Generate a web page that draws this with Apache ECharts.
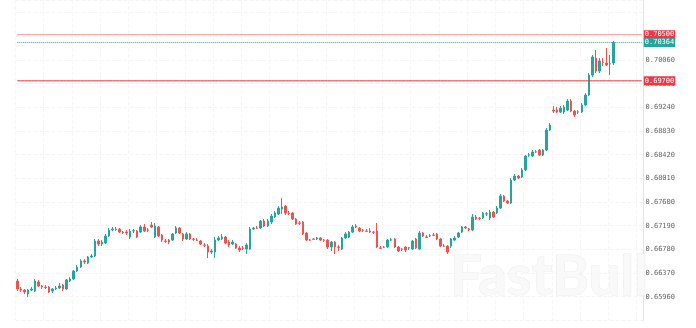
<!DOCTYPE html>
<html><head><meta charset="utf-8">
<script src="https://cdn.jsdelivr.net/npm/echarts@6/dist/echarts.min.js"></script>
<style>html,body{margin:0;padding:0;background:#fff}#c{width:696px;height:328px}</style>
</head><body><div id="c"></div>
<script>
const opens = [.66232,.66094,.66076,.66007,.66076,.66059,.66215,.66146,.66128,.66128,
.66059,.66094,.66111,.66163,.66094,.66232,.66267,.66405,.66475,.66579,
.66544,.66648,.66665,.66925,.66873,.66890,.67012,.67116,.67133,.67133,
.67081,.67081,.66994,.67098,.67098,.67081,.67168,.67116,.67202,.66994,
.67168,.67029,.66925,.66942,.66942,.67064,.67150,.67047,.66960,.67047,
.66960,.66942,.66925,.66856,.66838,.66734,.66734,.66942,.66960,.66994,
.66908,.66873,.66873,.66804,.66804,.66786,.66786,.67133,.67150,.67150,
.67271,.67185,.67254,.67341,.67393,.67479,.67531,.67410,.67410,.67306,
.67237,.67254,.67064,.66942,.66960,.66960,.66977,.66942,.66942,.66821,
.66908,.66821,.66786,.66977,.66994,.67081,.67185,.67150,.67116,.67098,
.67098,.67081,.67098,.66804,.66821,.66821,.66942,.66960,.66821,.66786,
.66821,.66804,.66786,.66960,.66786,.67064,.66994,.67012,.67029,.67047,
.66960,.66838,.66838,.66838,.66942,.66994,.67081,.67168,.67133,.67116,
.67341,.67323,.67323,.67393,.67323,.67427,.67410,.67496,.67704,.67618,
.67583,.67981,.68051,.68033,.68155,.68414,.68397,.68466,.68501,.68414,
.68501,.68847,.69194,.69194,.69159,.69159,.69194,.69350,.69177,.69159,
.69159,.69280,.69454,.69800,.70094,.69869,.70025,.70008,.69991,.70008];
const closes = [.66094,.66076,.66042,.66076,.66094,.66232,.66146,.66128,.66120,.66042,
.66094,.66111,.66146,.66094,.66250,.66267,.66405,.66475,.66579,.66561,
.66648,.66665,.66925,.66873,.66908,.67012,.67116,.67133,.67125,.67081,
.67073,.67064,.67098,.67105,.66994,.67168,.67098,.67110,.67168,.67185,
.67012,.66942,.66920,.66908,.67047,.67150,.67064,.66960,.67047,.66960,
.66955,.66938,.66873,.66850,.66734,.66752,.66942,.66977,.66994,.66890,
.66856,.66908,.66804,.66769,.66800,.66856,.67133,.67150,.67146,.67271,
.67185,.67271,.67358,.67410,.67496,.67514,.67410,.67405,.67306,.67219,
.67232,.67047,.66942,.66938,.66955,.66977,.66942,.66938,.66821,.66908,
.66821,.66816,.66977,.67047,.67081,.67168,.67168,.67098,.67112,.67094,
.67081,.67077,.66821,.66800,.66817,.66942,.66946,.66821,.66752,.66782,
.66769,.66808,.66925,.66804,.67064,.67012,.66990,.67016,.67025,.66960,
.66838,.66834,.66734,.66960,.66977,.67064,.67168,.67150,.67116,.67341,
.67306,.67319,.67410,.67397,.67427,.67341,.67496,.67704,.67618,.67583,
.67981,.68051,.68016,.68155,.68397,.68418,.68466,.68470,.68414,.68501,
.68847,.68934,.69177,.69159,.69228,.69246,.69350,.69177,.69107,.69163,
.69280,.69454,.69800,.70112,.69869,.70043,.70020,.69973,.69995,.70364];
const lows = [.66059,.66042,.66007,.65955,.66059,.66042,.66128,.66094,.66094,.66024,
.66024,.66076,.66094,.66059,.66076,.66215,.66250,.66388,.66457,.66527,
.66527,.66630,.66648,.66838,.66838,.66873,.66994,.67098,.67098,.67064,
.67047,.67029,.66960,.67064,.66977,.67064,.67081,.67081,.67150,.66977,
.66994,.66908,.66890,.66873,.66925,.67047,.67047,.66925,.66942,.66942,
.66925,.66925,.66856,.66821,.66630,.66700,.66630,.66925,.66942,.66873,
.66821,.66856,.66786,.66734,.66769,.66700,.66769,.67116,.67133,.67133,
.67168,.67168,.67219,.67323,.67375,.67393,.67375,.67375,.67289,.67202,
.67202,.67029,.66925,.66925,.66942,.66942,.66925,.66908,.66786,.66752,
.66700,.66752,.66769,.66960,.66977,.67064,.67150,.67081,.67081,.67081,
.67064,.67047,.66804,.66786,.66804,.66804,.66925,.66804,.66734,.66752,
.66734,.66769,.66769,.66786,.66769,.66994,.66977,.66994,.67012,.66942,
.66821,.66821,.66700,.66804,.66925,.66977,.67064,.67133,.67098,.67098,
.67289,.67289,.67306,.67358,.67289,.67323,.67393,.67479,.67600,.67566,
.67566,.67964,.67999,.68016,.68137,.68380,.68380,.68449,.68397,.68397,
.68484,.68830,.69142,.69142,.69142,.69125,.69177,.69159,.69073,.69125,
.69142,.69263,.69436,.69765,.69835,.69835,.69956,.69956,.69800,.69973];
const highs = [.66267,.66128,.66094,.66094,.66128,.66267,.66250,.66163,.66163,.66146,
.66111,.66146,.66197,.66180,.66267,.66301,.66423,.66509,.66613,.66613,
.66665,.66700,.66960,.66960,.66942,.67047,.67150,.67168,.67168,.67150,
.67098,.67116,.67133,.67133,.67116,.67202,.67219,.67150,.67254,.67237,
.67185,.67047,.66960,.66960,.67064,.67185,.67168,.67064,.67081,.67064,
.66977,.66977,.66942,.66890,.66873,.66786,.66994,.67012,.67047,.67012,
.66942,.66942,.66890,.66838,.66838,.66890,.67168,.67168,.67185,.67289,
.67306,.67306,.67393,.67445,.67531,.67670,.67548,.67445,.67427,.67323,
.67271,.67271,.67081,.66960,.66977,.66994,.66994,.66960,.66960,.66925,
.66925,.66856,.66994,.67081,.67098,.67202,.67219,.67168,.67133,.67133,
.67150,.67098,.67237,.66838,.66838,.66960,.66977,.66977,.66838,.66804,
.66838,.66821,.66942,.66977,.67098,.67081,.67029,.67047,.67064,.67064,
.66977,.66873,.66856,.66977,.67012,.67081,.67185,.67185,.67150,.67393,
.67375,.67341,.67427,.67427,.67462,.67445,.67531,.67739,.67722,.67635,
.68016,.68085,.68068,.68189,.68414,.68449,.68501,.68501,.68518,.68518,
.68882,.68969,.69263,.69246,.69263,.69280,.69384,.69384,.69194,.69194,
.69315,.69488,.69835,.70146,.70233,.70094,.70094,.70268,.70146,.70389];
// horizontal price levels drawn on the chart
const levelValues = [0.70500, 0.70364, 0.69700];
const levelColors = ['#f29a9a', '#26a69a', '#e8343c'];
const levelTypes = ['solid', 'dotted', 'solid'];
const levelBoxColors = ['#f23645', '#26a69a', '#f23645'];
// y axis ticks
const tickStart = 0.65550, tickStep = 0.0041, axisTop = 0.71100;
const labelLow = 0.6590, labelHigh = 0.7010;
const emptySlotsRight = 8;

const candles = [];
const cats = [];
for (let i = 0; i < opens.length; i++) {
  candles.push([opens[i], closes[i], lows[i], highs[i]]);
  cats.push(String(i));
}
for (let j = 0; j < emptySlotsRight; j++) { candles.push('-'); cats.push('e' + j); }

const lblFont = 'DejaVu Sans Mono';
const levelSeries = levelValues.map((v, k) => ({
  type: 'line', silent: true, z: 3 + k, symbol: 'none', showSymbol: false,
  data: cats.map(() => v),
  lineStyle: {color: levelColors[k], type: levelTypes[k], width: 1},
  endLabel: {
    show: true, distance: 2,
    formatter: () => v.toFixed(5), color: '#fff', fontSize: 7, fontFamily: lblFont,
    backgroundColor: levelBoxColors[k], padding: [1, 1, 1, 1]
  },
  emphasis: {disabled: true}
}));

const chart = echarts.init(document.getElementById('c'), null, {renderer: 'canvas'});
chart.setOption({
  animation: false,
  backgroundColor: '#ffffff',
  tooltip: {show: false},
  grid: {left: 15.5, right: 52.5, top: 0, bottom: 7.6},
  xAxis: {
    type: 'category', data: cats, boundaryGap: true,
    axisLine: {show: false}, axisTick: {show: false}, axisLabel: {show: false},
    splitLine: {show: true, interval: 7, lineStyle: {color: '#f6f6f6', width: 1, type: 'dashed'}}
  },
  yAxis: {
    type: 'value', position: 'right', scale: true,
    min: tickStart, max: axisTop, interval: tickStep,
    axisLine: {show: true, lineStyle: {color: '#e4e4e4', width: 1}},
    axisTick: {show: false},
    splitLine: {show: true, lineStyle: {color: '#f4f4f4', width: 1, type: 'dashed'}},
    axisLabel: {
      margin: 2, color: '#666', fontSize: 7, fontFamily: lblFont,
      formatter: v => (v < labelLow || v > labelHigh) ? '' : v.toFixed(5)
    }
  },
  series: [{
    type: 'candlestick',
    data: candles,
    barWidth: 2,
    itemStyle: {color: '#26a69a', color0: '#ef5350', borderColor: '#26a69a', borderColor0: '#ef5350', borderWidth: 1}
  }].concat(levelSeries),
  graphic: [{
    type: 'text', left: 450, top: 248, z: 100,
    style: {
      text: 'FastBull', font: 'bold 56px Lato', fill: '#f9f9f9',
      stroke: '#ebebeb', lineWidth: 1
    }
  }]
});
</script>
</body></html>
